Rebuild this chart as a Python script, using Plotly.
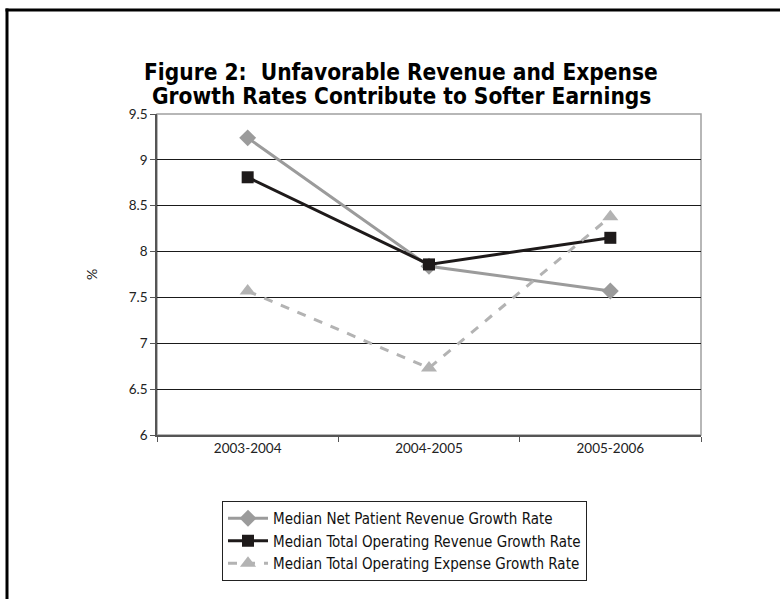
import plotly.graph_objects as go

categories = ["2003-2004", "2004-2005", "2005-2006"]
net_patient = [9.24, 7.84, 7.57]
total_op_rev = [8.81, 7.86, 8.15]
total_op_exp = [7.57, 6.73, 8.38]
y_ticks = [6, 6.5, 7, 7.5, 8, 8.5, 9, 9.5]
y_tick_labels = ["6", "6.5", "7", "7.5", "8", "8.5", "9", "9.5"]
title_lines = ["Figure 2:  Unfavorable Revenue and Expense",
               "Growth Rates Contribute to Softer Earnings"]

W, H = 780, 599
L, R, T, B = 157, 701, 114, 435
NARROW = "DejaVu Sans Condensed, Liberation Sans Narrow, Arial Narrow, sans-serif"
TICKF = "Lato, Liberation Sans, sans-serif"

fig = go.Figure()
fig.add_trace(go.Scatter(
    x=categories, y=net_patient, name="Median Net Patient Revenue Growth Rate",
    mode="lines+markers", line=dict(color="#9b9b9b", width=3),
    marker=dict(symbol="diamond", size=13, color="#9b9b9b")))
fig.add_trace(go.Scatter(
    x=categories, y=total_op_rev, name="Median Total Operating Revenue Growth Rate",
    mode="lines+markers", line=dict(color="#1e1a1a", width=3),
    marker=dict(symbol="square", size=12, color="#1e1a1a")))
fig.add_trace(go.Scatter(
    x=categories, y=total_op_exp, name="Median Total Operating Expense Growth Rate",
    mode="lines+markers", line=dict(color="#b3b3b3", width=3, dash="dash"),
    marker=dict(symbol="triangle-up", size=14, color="#b3b3b3")))

def px_x(p):
    return (p - L) / (R - L)

def px_y(p):
    return (B - p) / (B - T)

shapes = [
    dict(type="rect", xref="x domain", yref="y domain", x0=0, x1=1, y0=0, y1=1,
         line=dict(color="#a0a0a0", width=1.5), layer="below"),
    dict(type="line", xref="paper", yref="paper", x0=px_x(5.5), x1=px_x(781),
         y0=px_y(10), y1=px_y(10), line=dict(color="black", width=3)),
    dict(type="line", xref="paper", yref="paper", x0=px_x(7), x1=px_x(7),
         y0=px_y(8.5), y1=px_y(600), line=dict(color="black", width=3)),
]

annotations = [
    dict(text=title_lines[0], xref="paper", yref="paper", x=px_x(401), y=px_y(72),
         xanchor="center", yanchor="middle", showarrow=False,
         font=dict(family=NARROW, size=22.5, color="black", weight="bold")),
    dict(text=title_lines[1], xref="paper", yref="paper", x=px_x(401), y=px_y(96),
         xanchor="center", yanchor="middle", showarrow=False,
         font=dict(family=NARROW, size=22.5, color="black", weight="bold")),
]

fig.update_layout(
    width=W, height=H,
    margin=dict(l=L, r=W - R, t=T, b=H - B),
    paper_bgcolor="white", plot_bgcolor="white",
    font=dict(family=TICKF, color="#222"),
    showlegend=True,
    legend=dict(x=px_x(222), y=px_y(501), xanchor="left", yanchor="top",
                bordercolor="#222", borderwidth=1, bgcolor="white",
                font=dict(family=NARROW, size=15, color="#111"),
                tracegroupgap=0, itemwidth=40),
    shapes=shapes,
    annotations=annotations,
    xaxis=dict(type="category", range=[-0.5, 2.5], showgrid=False,
               ticks="outside", tickson="boundaries", ticklen=5, tickcolor="#555",
               showline=True, linecolor="#555", linewidth=1.5,
               tickfont=dict(family=TICKF, size=13.5, color="#222"), zeroline=False),
    yaxis=dict(range=[6, 9.5], tickvals=y_ticks, ticktext=y_tick_labels,
               showgrid=True, gridcolor="#1a1a1a", gridwidth=1,
               ticks="outside", ticklen=5, tickcolor="#555",
               showline=True, linecolor="#555", linewidth=1.5,
               tickfont=dict(family=TICKF, size=13.5, color="#222"), zeroline=False,
               title=dict(text="%", font=dict(family=TICKF, size=14, color="#222"), standoff=28)),
)

fig.write_html("out.html", config={"displayModeBar": False},
               post_script="document.body.style.margin='0';document.body.style.overflow='hidden';")
